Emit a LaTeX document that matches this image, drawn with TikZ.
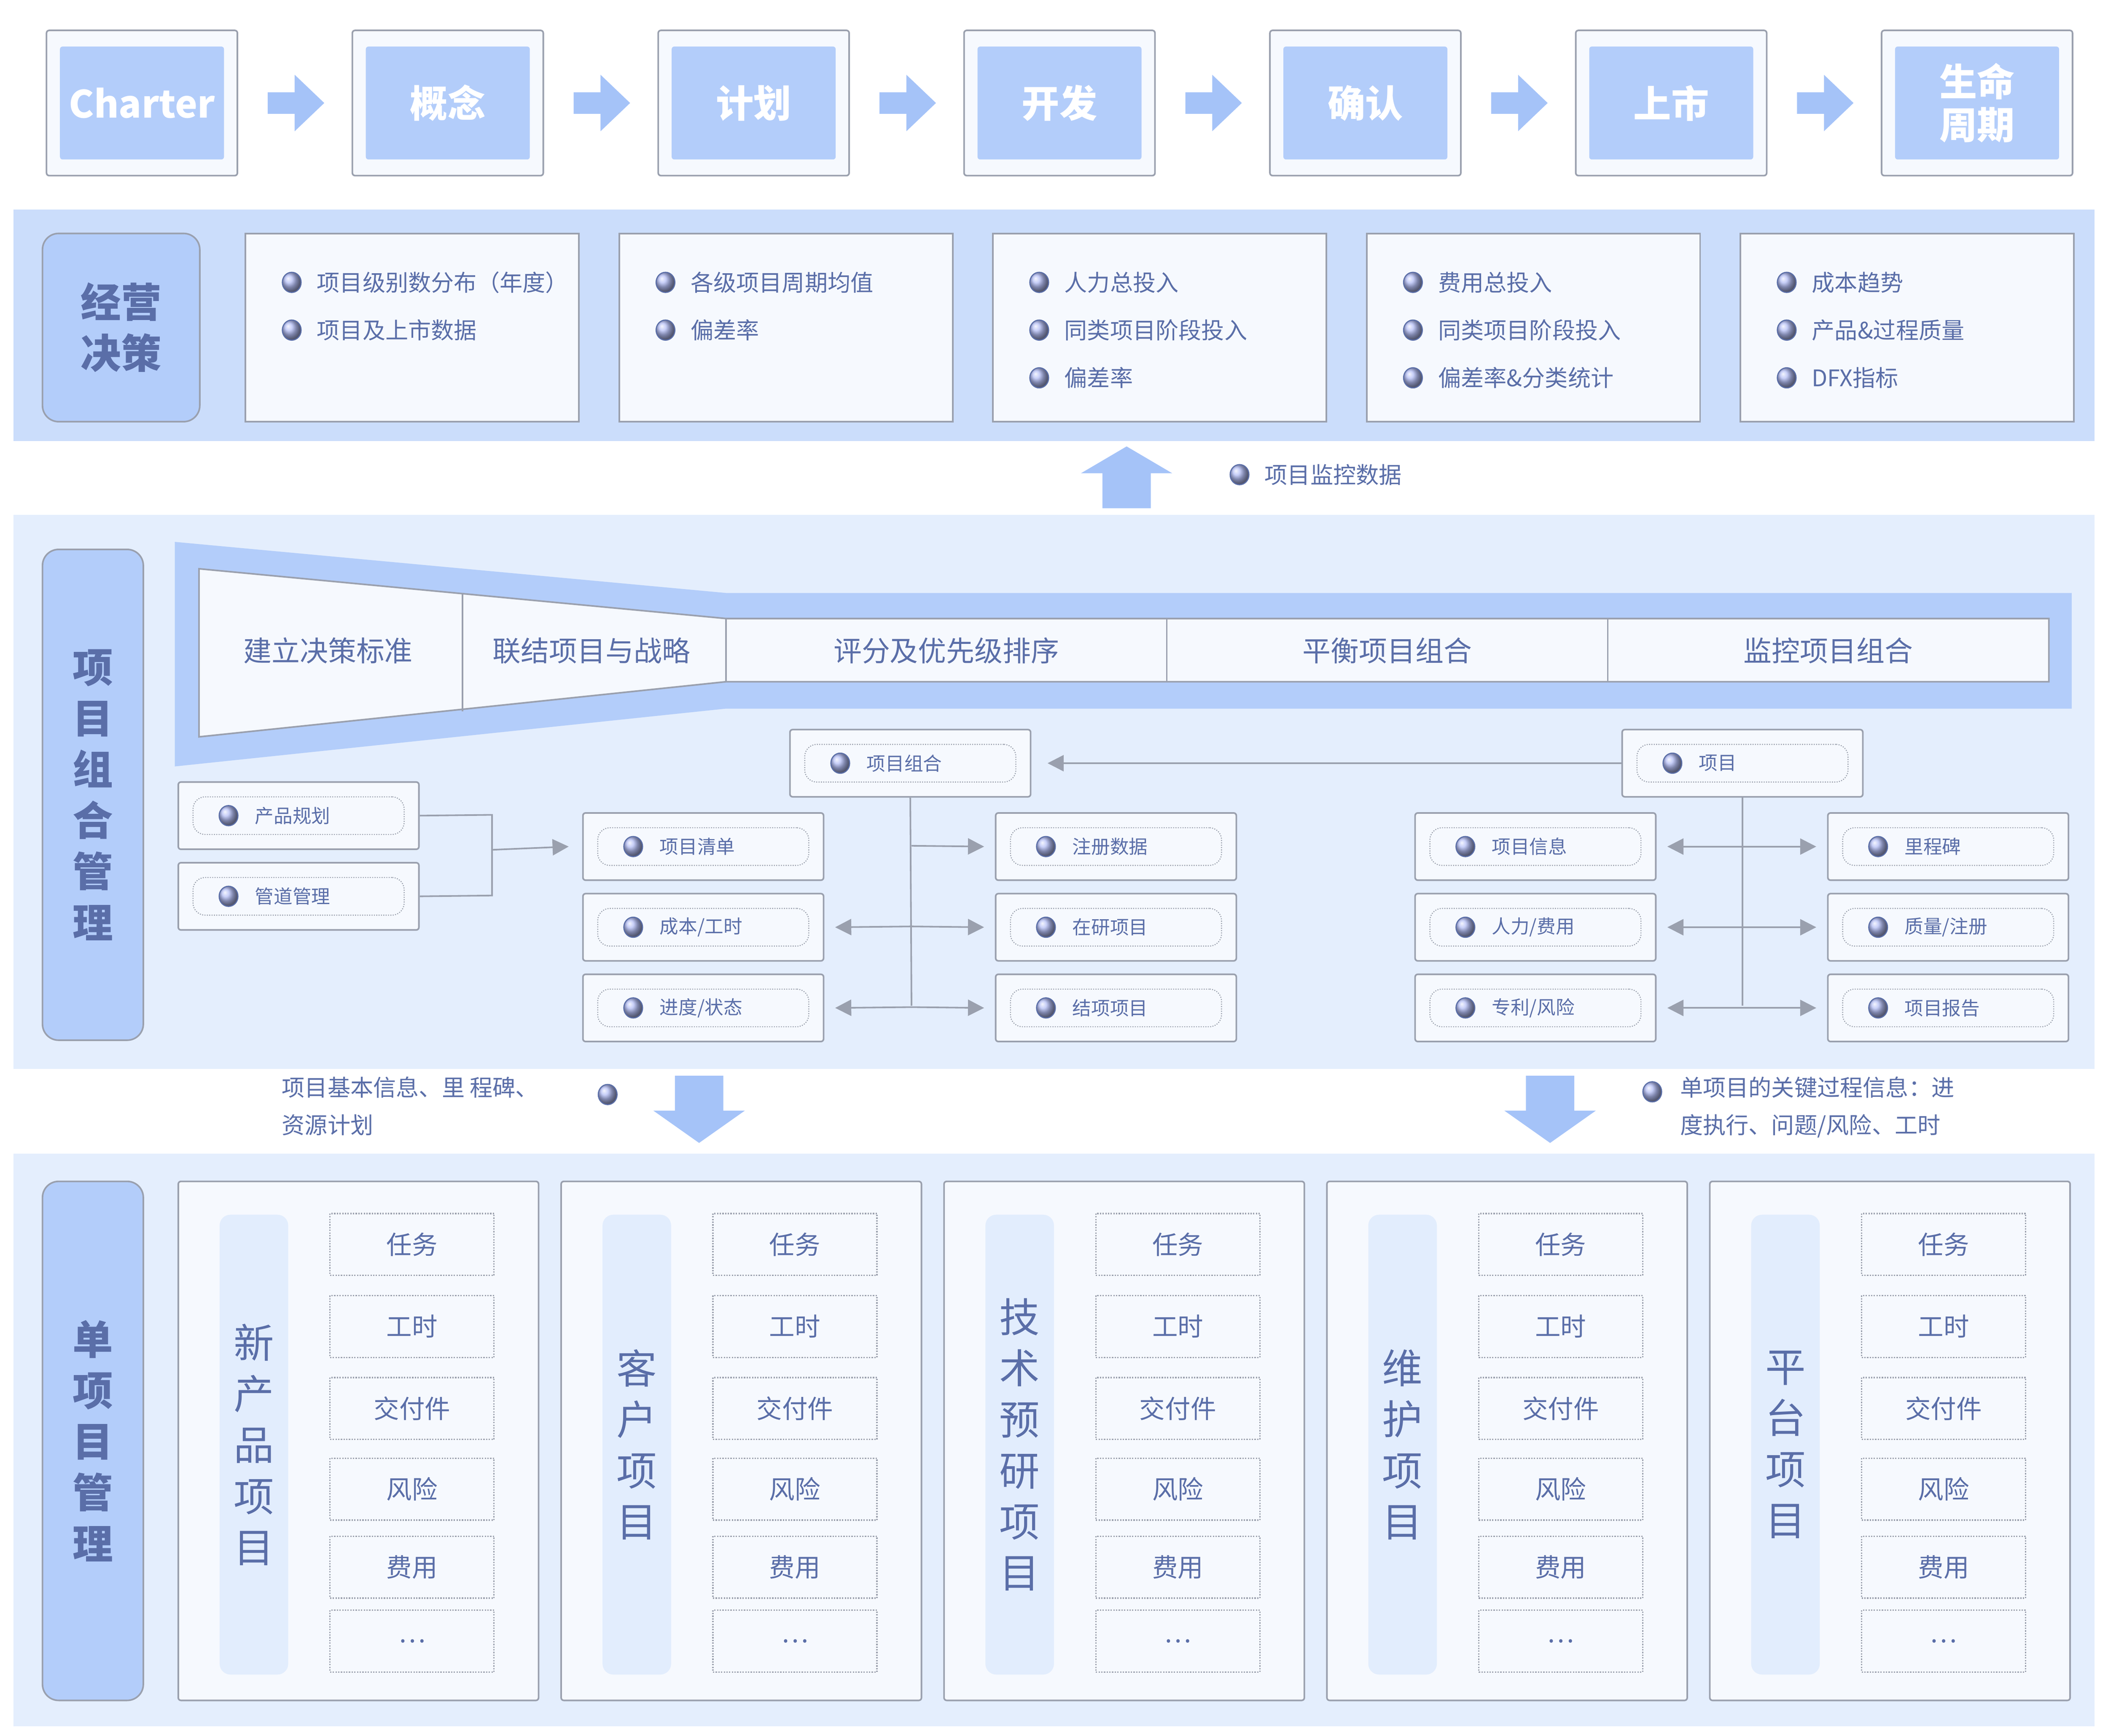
\documentclass[tikz,border=0pt]{standalone}
\usepackage{fontspec}
\setmainfont{Noto Sans CJK SC}
\usetikzlibrary{positioning,calc,arrows.meta}
\definecolor{bandA}{HTML}{CBDDFB}
\definecolor{bandB}{HTML}{E4EEFD}
\definecolor{blueBox}{HTML}{B3CDFA}
\definecolor{arrowFill}{HTML}{A5C3F8}
\definecolor{ink}{HTML}{5A6EA8}
\definecolor{edge}{HTML}{9AA0AE}
\definecolor{paper}{HTML}{F6F9FE}
\definecolor{pill}{HTML}{E2EDFD}
\definecolor{dot}{HTML}{B4BEF5}
\tikzset{every picture/.style={line width=0.75pt}}
\tikzset{
  outerbox/.style={draw=edge, fill=paper, rounded corners=2pt, line width=1.2pt, anchor=north west},
  stagebox/.style={fill=blueBox, rounded corners=2pt, text=white, font=\fontsize{28}{32}\selectfont\bfseries, align=center, minimum width=122, minimum height=84},
  sidebox/.style={draw=edge, fill=blueBox, rounded corners=12pt, line width=1.2pt, anchor=north west, text=ink, font=\fontsize{30}{38}\selectfont\bfseries, align=center},
  listbox/.style={draw=edge, fill=paper, line width=1.2pt, anchor=north west, minimum width=248, minimum height=140},
  smallbox/.style={draw=edge, fill=paper, rounded corners=2pt, line width=1.2pt, anchor=north west, minimum width=179, minimum height=50},
  pillbox/.style={draw=edge, densely dotted, rounded corners=9pt, minimum width=157, minimum height=28},
  tasktext/.style={draw=edge, densely dotted, fill=paper, line width=1pt, anchor=north west, minimum width=122, minimum height=46, text=ink, font=\fontsize{19}{22}\selectfont},
  itemtext/.style={text=ink, anchor=west, font=\fontsize{17}{28}\selectfont},
  conn/.style={draw=edge, line width=1.2pt},
  tip/.style={-{Triangle[length=12pt,width=12pt]}},
}
\newcommand{\bul}[1]{\shade[ball color=dot, draw=ink, line width=0.8pt] #1 ellipse (7 and 7.5);}
\begin{document}
\begin{tikzpicture}[x=1pt,y=-1pt]
	\useasboundingbox (0,0) rectangle (1568,1291);
	% stage row
	\foreach \t [count=\n] in {Charter,概念,计划,开发,确认,上市,{生命\\周期}} {
		\node[outerbox, minimum width=142, minimum height=108] (st\n) at ({34+227.5*(\n-1)},22) {};
		\node[stagebox] (sl\n) at (st\n) {\t};
	}
	\foreach \n in {1,...,6} {
		\fill[arrowFill] ($(st\n.east)+(22,-8)$) -- ++(20,0) -- ++(0,-13) -- ++(22,21) -- ++(-22,21) -- ++(0,-13) -- ++(-20,0) -- cycle;
	}
	% band 1
	\fill[bandA] (10,156) rectangle (1558,328);
	\node[sidebox, minimum width=117, minimum height=140] (jy) at (31,173) {经营\\决策};
	\foreach \items [count=\n] in {{项目级别数分布（年度）,项目及上市数据},{各级项目周期均值,偏差率},{人力总投入,同类项目阶段投入,偏差率},{费用总投入,同类项目阶段投入,偏差率\&分类统计},{成本趋势,产品\&过程质量,DFX指标}} {
		\node[listbox] (lb\n) at ({182+278*(\n-1)},173) {};
		\foreach \s [count=\k] in \items {
			\bul{($(lb\n.north west)+(35,{37+35.5*(\k-1)})$)}
			\node[itemtext] at ($(lb\n.north west)+(50,{37+35.5*(\k-1)})$) {\s};
		}
	}
	% monitor arrow
	\fill[arrowFill] (820,378) -- (820,352) -- (804,352) -- (838,332) -- (872,352) -- (856,352) -- (856,378) -- cycle;
	\bul{(922,353)}
	\node[itemtext] (jk) at (937,353) {项目监控数据};
	% band 2
	\fill[bandB] (10,383) rectangle (1558,795);
	\node[sidebox, minimum width=75, minimum height=365] (zh) at (31,408) {项\\目\\组\\合\\管\\理};
	\fill[blueBox] (130,403) -- (540,441) -- (1541,441) -- (1541,527) -- (540,527) -- (130,570) -- cycle;
	\draw[edge, fill=paper, line width=1.2pt] (148,423) -- (540,460) -- (1524,460) -- (1524,507) -- (540,507) -- (148,548) -- cycle;
	\draw[edge, line width=1pt] (344,441) -- (344,529) (540,460) -- (540,507) (868,460) -- (868,507) (1196,460) -- (1196,507);
	\foreach \x/\t [count=\n] in {244/建立决策标准,440/联结项目与战略,704/评分及优先级排序,1032/平衡项目组合,1360/监控项目组合}
		\node[text=ink, font=\fontsize{21}{24}\selectfont] (fn\n) at (\x,484) {\t};
	% small boxes
	\foreach \nm/\x/\y/\t in {cp/132/581/产品规划, gd/132/641/管道管理, zg/587/542/项目组合,
		qd/433/604/项目清单, cb/433/664/{成本/工时}, jd/433/724/{进度/状态},
		zc/740/604/注册数据, zy/740/664/在研项目, jx/740/724/结项项目,
		xm/1206/542/项目, xx/1052/604/项目信息, rl/1052/664/{人力/费用}, zl/1052/724/{专利/风险},
		lc/1359/604/里程碑, zz/1359/664/{质量/注册}, bg/1359/724/项目报告} {
		\node[smallbox] (\nm) at (\x,\y) {};
		\node[pillbox] at (\nm) {};
		\bul{($(\nm.west)+(38,0)$)}
		\node[text=ink, anchor=west, font=\fontsize{14}{16}\selectfont] at ($(\nm.west)+(54,0)$) {\t};
	}
	% connectors
	\draw[conn] (cp.east) -- (366,606) -- (366,666) -- (gd.east);
	\coordinate (br) at (366,632);
	\draw[conn, tip] (br) -- ($(qd.west)+(-10,0)$);
	\draw[conn, tip] (xm.west) -- ($(zg.east)+(12,0)$);
	\draw[conn] (zg.south) -- (678,748);
	\draw[conn, tip] (678,629) -- ($(zc.west)+(-8,0)$);
	\draw[conn, tip] (678,689) -- ($(zy.west)+(-8,0)$);
	\draw[conn, tip] (678,689) -- ($(cb.east)+(8,0)$);
	\draw[conn, tip] (678,749) -- ($(jx.west)+(-8,0)$);
	\draw[conn, tip] (678,749) -- ($(jd.east)+(8,0)$);
	\draw[conn] (1296,592) -- (1296,748);
	\foreach \a/\b in {xx/lc,rl/zz,zl/bg} {
		\draw[conn, tip] (1296,0 |- \a.east) -- ($(\a.east)+(8,0)$);
		\draw[conn, tip] (1296,0 |- \a.east) -- ($(\b.west)+(-8,0)$);
	}
	% down arrows
	\node[itemtext, anchor=north west, align=left] (ji) at (206,797) {项目基本信息、里 程碑、\\资源计划};
	\bul{(452,814)}
	\fill[arrowFill] (502,800) -- (538,800) -- (538,826) -- (554,826) -- (520,850) -- (486,826) -- (502,826) -- cycle;
	\fill[arrowFill] (1135,800) -- (1171,800) -- (1171,826) -- (1187,826) -- (1153,850) -- (1119,826) -- (1135,826) -- cycle;
	\bul{(1229,812)}
	\node[itemtext, anchor=north west, align=left] (gc) at (1246,797) {单项目的关键过程信息：进\\度执行、问题/风险、工时};
	% band 3
	\fill[bandB] (10,858) rectangle (1558,1284);
	\node[sidebox, minimum width=75, minimum height=386] (dx) at (31,878) {单\\项\\目\\管\\理};
	\foreach \t [count=\n] in {{新\\产\\品\\项\\目},{客\\户\\项\\目},{技\\术\\预\\研\\项\\目},{维\\护\\项\\目},{平\\台\\项\\目}} {
		\node[outerbox, minimum width=268, minimum height=386] (pj\n) at ({132+284.8*(\n-1)},878) {};
		\node[fill=pill, rounded corners=8pt, anchor=north west, minimum width=51, minimum height=342, text=ink, align=center, font=\fontsize{30}{38}\selectfont] (pl\n) at ($(pj\n.north west)+(31,25)$) {\t};
		\foreach \s/\yy in {任务/24, 工时/85, 交付件/146, 风险/206, 费用/264, …/319}
			\node[tasktext] at ($(pj\n.north west)+(113,\yy)$) {\s};
	}
\end{tikzpicture}
\end{document}
